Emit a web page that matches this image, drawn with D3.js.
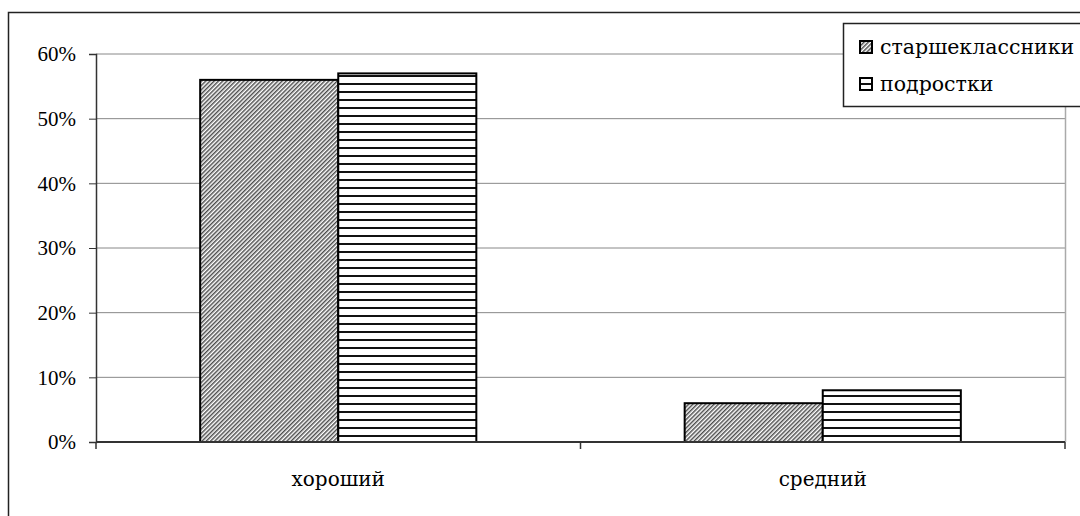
<!DOCTYPE html>
<html>
<head>
<meta charset="utf-8">
<script src="https://cdn.jsdelivr.net/npm/d3@7"></script>
<style>
  body { margin: 0; background: #fff; }
  svg { display: block; }
  svg text { fill: #000; }
</style>
</head>
<body>
<svg width="1080" height="516"></svg>
<script>
      const categories = ["хороший", "средний"];
      const seriesNames = ["старшеклассники", "подростки"];
      const seniors = [0.56, 0.06];
      const teens = [0.57, 0.08];
      const yTicks = [0, 0.1, 0.2, 0.3, 0.4, 0.5, 0.6];

      var svg = d3.select('svg');
      var width = +svg.attr('width');
      var height = +svg.attr('height');

      var margin = { top: 54, bottom: 74, left: 96, right: 15 };
      var innerWidth = width - margin.left - margin.right;
      var innerHeight = height - margin.top - margin.bottom;
      var serif = '"Liberation Serif", serif';
      var cyrSerif = '"DejaVu Serif", "Liberation Serif", serif';

      // hatch patterns
      var defs = svg.append('defs');
      defs.append('pattern')
          .attr('id', 'diag')
          .attr('patternUnits', 'userSpaceOnUse')
          .attr('width', 3).attr('height', 3)
          .attr('patternTransform', 'rotate(45)')
        .call(p => {
          p.append('rect').attr('width', 3).attr('height', 3).attr('fill', '#fff');
          p.append('line').attr('x1', 0.75).attr('y1', 0).attr('x2', 0.75).attr('y2', 3)
            .attr('stroke', '#444').attr('stroke-width', 1.4);
        });
      defs.append('pattern')
          .attr('id', 'horiz')
          .attr('patternUnits', 'userSpaceOnUse')
          .attr('width', 8).attr('height', 8)
        .call(p => {
          p.append('rect').attr('width', 8).attr('height', 8).attr('fill', '#fff');
          p.append('line').attr('x1', 0).attr('y1', 6).attr('x2', 8).attr('y2', 6)
            .attr('stroke', '#111').attr('stroke-width', 2);
        });
      var fills = ['url(#diag)', 'url(#horiz)'];

      // outer chart frame (clipped at right/bottom like the original)
      svg.append('rect')
          .attr('x', 8.5).attr('y', 12.5)
          .attr('width', 1200).attr('height', 600)
          .attr('fill', 'none')
          .attr('stroke', '#222')
          .attr('stroke-width', 1.5);

      var g = svg.append('g')
          .attr('transform', `translate(${margin.left},${margin.top})`);

      var xScale = d3.scaleBand()
          .domain(categories)
          .range([0, innerWidth]);
      var xInner = d3.scaleBand()
          .domain(seriesNames)
          .range([0, xScale.bandwidth() * 0.57])
          .padding(0);
      var yScale = d3.scaleLinear()
          .domain([0, 0.6])
          .range([innerHeight, 0]);

      // gridlines
      g.append('g')
        .selectAll('line')
        .data(yTicks.slice(1))
        .enter().append('line')
          .attr('x1', 0).attr('x2', innerWidth)
          .attr('y1', d => yScale(d)).attr('y2', d => yScale(d))
          .attr('stroke', '#888').attr('stroke-width', 1);

      // plot area right border
      g.append('line')
          .attr('x1', innerWidth + 0.5).attr('x2', innerWidth + 0.5)
          .attr('y1', 0).attr('y2', innerHeight)
          .attr('stroke', '#aaa').attr('stroke-width', 1.5);

      // bars
      var data = [];
      categories.forEach((c, i) => {
        data.push({ cat: c, s: 0, v: seniors[i] });
        data.push({ cat: c, s: 1, v: teens[i] });
      });
      var groupOffset = (xScale.bandwidth() - xInner.range()[1]) / 2;
      g.append('g')
        .selectAll('rect')
        .data(data)
        .enter().append('rect')
          .attr('x', d => xScale(d.cat) + groupOffset + xInner(seriesNames[d.s]))
          .attr('y', d => yScale(d.v))
          .attr('width', xInner.bandwidth())
          .attr('height', d => innerHeight - yScale(d.v))
          .attr('fill', d => fills[d.s])
          .attr('stroke', '#000')
          .attr('stroke-width', 2);

      // y axis
      var yAxis = d3.axisLeft(yScale)
          .tickValues(yTicks)
          .tickFormat(d3.format('.0%'))
          .tickSize(7)
          .tickPadding(13);
      var yAxisG = g.append('g').call(yAxis)
          .attr('font-family', serif)
          .attr('font-size', 21);
      yAxisG.select('.domain').attr('stroke', '#333').attr('stroke-width', 1.5);
      yAxisG.selectAll('.tick line').attr('stroke', '#333');

      // x axis
      var xAxisG = g.append('g')
          .attr('transform', `translate(0,${innerHeight})`);
      xAxisG.append('line')
          .attr('x1', 0).attr('x2', innerWidth)
          .attr('stroke', '#333').attr('stroke-width', 2);
      xAxisG.selectAll('.cat-tick')
        .data(categories)
        .enter().append('line')
          .attr('class', 'cat-tick')
          .attr('x1', d => xScale(d) + xScale.bandwidth())
          .attr('x2', d => xScale(d) + xScale.bandwidth())
          .attr('y1', 0).attr('y2', 7)
          .attr('stroke', '#333').attr('stroke-width', 1.5);
      xAxisG.append('line')
          .attr('x1', 0).attr('x2', 0).attr('y1', 0).attr('y2', 7)
          .attr('stroke', '#333').attr('stroke-width', 1.5);
      xAxisG.selectAll('.cat-label')
        .data(categories)
        .enter().append('text')
          .attr('class', 'cat-label')
          .attr('x', d => xScale(d) + xScale.bandwidth() / 2)
          .attr('y', 44)
          .attr('text-anchor', 'middle')
          .attr('font-family', cyrSerif)
          .attr('font-size', 20)
          .text(d => d);

      // legend
      var legend = svg.append('g')
          .attr('transform', 'translate(843,23)');
      legend.append('rect')
          .attr('x', 0.5).attr('y', 0.5)
          .attr('width', 300).attr('height', 83)
          .attr('fill', '#fff')
          .attr('stroke', '#222').attr('stroke-width', 1.5);
      var items = legend.selectAll('.item')
        .data(seriesNames)
        .enter().append('g')
          .attr('class', 'item')
          .attr('transform', (d, i) => `translate(17,${18 + i * 37})`);
      items.append('rect')
          .attr('width', 12).attr('height', 12)
          .attr('fill', (d, i) => fills[i])
          .attr('stroke', '#000').attr('stroke-width', 2);
      items.append('text')
          .attr('x', 20).attr('y', 13)
          .attr('font-family', cyrSerif)
          .attr('font-size', 20.5)
          .text(d => d);
</script>
</body>
</html>
